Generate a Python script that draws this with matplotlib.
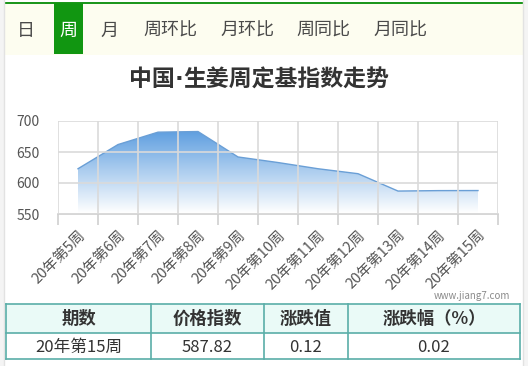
import numpy as np
import matplotlib.pyplot as plt
from matplotlib.colors import LinearSegmentedColormap
from matplotlib.patches import Rectangle

plt.rcParams['font.family'] = ['Noto Sans CJK SC', 'DejaVu Sans']

# data
weeks = ['20年第5周', '20年第6周', '20年第7周', '20年第8周', '20年第9周', '20年第10周',
         '20年第11周', '20年第12周', '20年第13周', '20年第14周', '20年第15周']
index_vals = [623, 662, 682, 683, 642, 633, 623, 615, 587, 587.70, 587.82]
y_ticks = [550, 600, 650, 700]
tabs = ['日', '周', '月', '周环比', '月环比', '周同比', '月同比']
tab_x = [26, 68, 109, 170, 247, 323, 400]
title = '中国·生姜周定基指数走势'
table_header = ['期数', '价格指数', '涨跌值', '涨跌幅（%）']
table_row = ['20年第15周', '587.82', '0.12', '0.02']
col_edges = [6, 151, 264, 348, 520]

W, H = 528, 366
fig = plt.figure(figsize=(W / 100, H / 100), dpi=100)

# page decoration in pixel coords
bg = fig.add_axes([0, 0, 1, 1])
bg.set_xlim(0, W)
bg.set_ylim(H, 0)
bg.axis('off')
bg.add_patch(Rectangle((0, 0), 4, H, color='#f4f4f4', lw=0))
bg.add_patch(Rectangle((523, 0), 5, H, color='#f4f4f4', lw=0))
bg.plot([4, 4], [0, H], color='#e2e2e2', lw=1)
bg.plot([523, 523], [0, H], color='#e2e2e2', lw=1)
bg.add_patch(Rectangle((4, 3), 519, 52, color='#fdfdf0', lw=0))
bg.add_patch(Rectangle((4, 1.5), 519, 2.5, color='#1d971d', lw=0))
bg.add_patch(Rectangle((54, 3), 29, 51, color='#119611', lw=0))
for i, t in enumerate(tabs):
    bg.text(tab_x[i], 31, t, fontsize=13, ha='center', va='center',
            color='white' if i == 1 else '#4a4a4a')

# title: narrow middle dot drawn in a latin font
left, right = title.split('·')
fig.canvas.draw()
r = fig.canvas.get_renderer()
tkw = dict(fontsize=16.5, fontweight='bold', va='center', color='#333333')
tl = bg.text(0, 80, left, ha='left', **tkw)
td = bg.text(0, 80, '·', ha='left', family='DejaVu Sans', **tkw)
tr = bg.text(0, 80, right, ha='left', **tkw)
wl = tl.get_window_extent(r).width
wd = td.get_window_extent(r).width
wr = tr.get_window_extent(r).width
x0 = 259 - (wl + wd + wr) / 2
tl.set_x(x0)
td.set_x(x0 + wl)
tr.set_x(x0 + wl + wd)

bg.text(510, 296, 'www.jiang7.com', fontsize=7, ha='right', va='center', color='#8a8a8a')

# table
top, mid, bot = 304, 333, 359
bg.add_patch(Rectangle((col_edges[0], top), col_edges[-1] - col_edges[0], mid - top,
                       facecolor='#eafaf7', edgecolor='none'))
line_c = '#5aaea8'
for yy in [top, mid, bot]:
    bg.plot([col_edges[0], col_edges[-1]], [yy, yy], color=line_c, lw=1.2)
for xx in col_edges:
    bg.plot([xx, xx], [top, bot], color=line_c, lw=1.2)
for i in range(4):
    cx = (col_edges[i] + col_edges[i + 1]) / 2
    bg.text(cx, (top + mid) / 2, table_header[i], fontsize=12.5, fontweight='bold',
            ha='center', va='center', color='#333333')
    bg.text(cx, (mid + bot) / 2 + 1, table_row[i], fontsize=12,
            ha='center', va='center', color='#333333')

# chart
ax = fig.add_axes([58 / W, 1 - 214 / H, 440 / W, 93 / H])
ax.set_facecolor('none')
x = np.arange(len(weeks))
ax.set_xlim(-0.5, len(weeks) - 0.5)
ax.set_ylim(550, 700)

poly = ax.fill_between(x, index_vals, 550, color='none', lw=0)
cmap = LinearSegmentedColormap.from_list('g', ['#ffffff', '#5f9fe0'])
grad = np.linspace(0, 1, 256).reshape(-1, 1)
im = ax.imshow(grad, extent=[-0.5, len(weeks) - 0.5, 552, max(index_vals)], origin='lower',
               cmap=cmap, aspect='auto', zorder=1)
im.set_clip_path(poly.get_paths()[0], transform=ax.transData)
ax.plot(x, index_vals, color='#6a9fd6', lw=1, zorder=2)

ax.set_yticks(y_ticks)
ax.set_xticks(x)
ax.set_xticklabels(weeks, rotation=45, ha='right', rotation_mode='anchor')
ax.set_xticks(np.arange(-0.5, len(weeks)), minor=True)
ax.tick_params(axis='x', which='major', length=0, labelsize=10.5, labelcolor='#555555', pad=10)
ax.tick_params(axis='x', which='minor', length=8, color='#d0d0d0', width=1.2)
ax.tick_params(axis='y', length=0, labelsize=10, labelcolor='#555555', pad=13)
ax.grid(True, axis='x', which='minor', color='#dadada', lw=1.2, zorder=3)
ax.grid(True, axis='y', which='major', color='#dadada', lw=1.2, zorder=3)
ax.set_axisbelow(False)
for s in ['top', 'left', 'right']:
    ax.spines[s].set_visible(False)
ax.spines['bottom'].set_color('#d0d0d0')
ax.spines['bottom'].set_linewidth(1.2)

fig.savefig('out.png', dpi=100)
